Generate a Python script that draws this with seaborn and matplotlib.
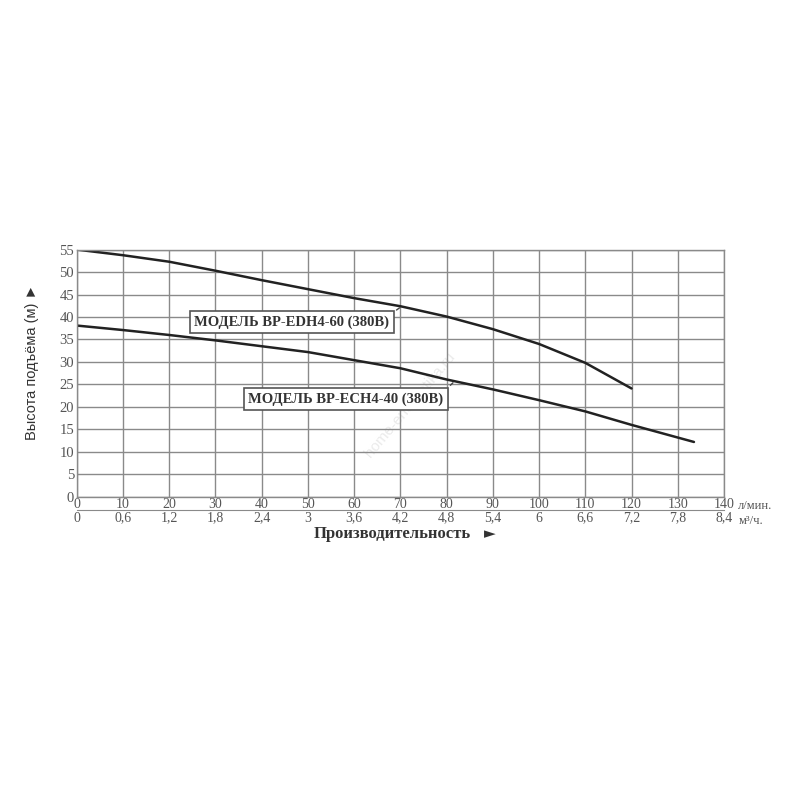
import matplotlib
matplotlib.use("Agg")
import matplotlib.pyplot as plt
import seaborn as sns
import pandas as pd

# flow, l/min
flow_edh = [0, 10, 20, 30, 40, 50, 60, 70, 80, 90, 100, 110, 120]
head_edh = [55, 53.75, 52.3, 50.3, 48.2, 46.2, 44.2, 42.4, 40.1, 37.3, 34, 29.8, 24.1]
flow_ech = [0, 10, 20, 30, 40, 50, 60, 70, 80, 90, 100, 110, 120, 133.5]
head_ech = [38.1, 37.1, 36, 34.8, 33.5, 32.2, 30.4, 28.6, 26.1, 23.9, 21.5, 19, 16, 12.2]

lmin_ticks = [0, 10, 20, 30, 40, 50, 60, 70, 80, 90, 100, 110, 120, 130, 140]
m3h_labels = ["0", "0,6", "1,2", "1,8", "2,4", "3", "3,6", "4,2", "4,8", "5,4",
              "6", "6,6", "7,2", "7,8", "8,4"]
head_ticks = [0, 5, 10, 15, 20, 25, 30, 35, 40, 45, 50, 55]

label_edh = "МОДЕЛЬ ВР-EDH4-60 (380В)"
label_ech = "МОДЕЛЬ ВР-ECH4-40 (380В)"

df = pd.concat([
    pd.DataFrame({"flow": flow_edh, "head": head_edh, "model": label_edh}),
    pd.DataFrame({"flow": flow_ech, "head": head_ech, "model": label_ech}),
])

sns.set_style("white")
serif = ["Liberation Serif", "DejaVu Serif"]
tick_col = "#555555"

fig = plt.figure(figsize=(8, 8), dpi=100)
ax = fig.add_axes([0.096, 0.379, 0.809, 0.309])

# faint watermark, under everything
ax.text(72, 20.5, "home-energetika.ru", rotation=50, ha="center", va="center",
        fontsize=11, color="#ebebeb", family=["Liberation Sans", "DejaVu Sans"], zorder=0)

sns.lineplot(data=df, x="flow", y="head", hue="model",
             palette={label_edh: "#222222", label_ech: "#222222"},
             linewidth=1.8, legend=False, sort=False, ax=ax)

ax.set_xlim(0, 140)
ax.set_ylim(0, 55)
ax.set_xticks(lmin_ticks)
ax.set_yticks(head_ticks)
ax.grid(True, color="#8a8a8a", linewidth=1.0)
for s in ax.spines.values():
    s.set_color("#8a8a8a")
    s.set_linewidth(1.0)
ax.tick_params(axis="y", length=0, pad=2, labelsize=10.5, colors=tick_col)
ax.tick_params(axis="x", length=0, pad=1, labelsize=10, colors=tick_col)
for lab in ax.get_xticklabels() + ax.get_yticklabels():
    lab.set_family(serif)
ax.set_xlabel("")
ax.set_ylabel("")

# second flow scale in m3/h
sec = ax.secondary_xaxis(-0.054)
sec.set_xticks(lmin_ticks, labels=m3h_labels)
sec.spines["bottom"].set_color("#8a8a8a")
sec.tick_params(length=0, pad=1, labelsize=10, colors=tick_col)
for lab in sec.get_xticklabels():
    lab.set_family(serif)

ax.text(1.022, -0.012, "л/мин.", transform=ax.transAxes, fontsize=9,
        family=serif, color=tick_col, va="top", ha="left")
ax.text(1.022, -0.072, "м³/ч.", transform=ax.transAxes, fontsize=9,
        family=serif, color=tick_col, va="top", ha="left")

fig.text(0.49, 0.333, "Производительность", ha="center", va="center",
         fontsize=12, fontweight="bold", family=serif, color="#333333")
fig.text(0.612, 0.333, "►", ha="center", va="center",
         fontsize=11, family="DejaVu Sans", color="#333333")
fig.text(0.04, 0.547, "Высота подъёма (м) ►", rotation=90, ha="center", va="center",
         fontsize=10.5, family=["Liberation Sans", "DejaVu Sans"], color="#333333")

box = dict(boxstyle="square,pad=0.3", fc="white", ec="#555555", lw=1.2)
ax.annotate(label_edh, xy=(70.3, 42.4), xytext=(46.5, 38.9), ha="center", va="center",
            fontsize=10.5, fontweight="bold", family=serif, color="#333333", bbox=box,
            arrowprops=dict(arrowstyle="-", color="#444444", lw=1, relpos=(1, 1)))
ax.annotate(label_ech, xy=(81.8, 25.8), xytext=(58.2, 21.8), ha="center", va="center",
            fontsize=10.5, fontweight="bold", family=serif, color="#333333", bbox=box,
            arrowprops=dict(arrowstyle="-", color="#444444", lw=1, relpos=(1, 1)))

fig.savefig("out.png", dpi=100, facecolor="white")
